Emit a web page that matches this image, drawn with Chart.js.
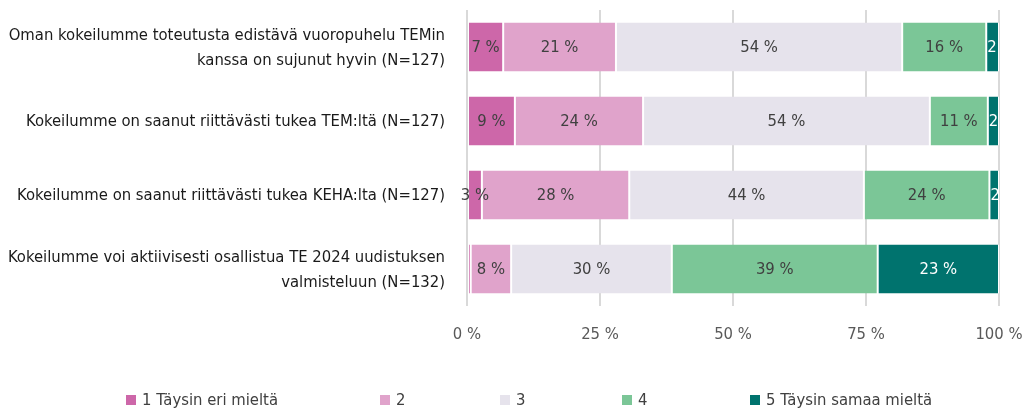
<!DOCTYPE html>
<html><head><meta charset="utf-8">
<script src="https://cdn.jsdelivr.net/npm/chart.js@4/dist/chart.umd.min.js"></script>
<style>
html,body{margin:0;padding:0;background:#fff;}
#wrap{position:relative;width:1026px;height:410px;}
canvas{position:absolute;left:0;top:0;}
#legend{position:absolute;top:390px;left:0;width:1026px;height:20px;font-family:"Liberation Sans Narrow","DejaVu Sans Condensed",sans-serif;font-size:16.5px;color:#404040;}
.li{position:absolute;top:0;display:flex;align-items:center;white-space:nowrap;}
.sw{width:10px;height:10px;margin-right:6px;display:inline-block;}
</style></head>
<body><div id="wrap"><canvas id="c" width="1026" height="410"></canvas><div id="legend"></div></div>
<script>
const FONT = '"Liberation Sans Narrow","DejaVu Sans Condensed",sans-serif';
const categories = [
  ["Oman kokeilumme toteutusta edistävä vuoropuhelu TEMin", "kanssa on sujunut hyvin (N=127)"],
  "Kokeilumme on saanut riittävästi tukea TEM:ltä (N=127)",
  "Kokeilumme on saanut riittävästi tukea KEHA:lta (N=127)",
  ["Kokeilumme voi aktiivisesti osallistua TE 2024 uudistuksen", "valmisteluun (N=132)"]
];
const seriesNames = ["1 Täysin eri mieltä", "2", "3", "4", "5 Täysin samaa mieltä"];
const s1 = [6.8, 9.0, 2.8, 0.7];
const s2 = [21.2, 24.1, 27.7, 7.6];
const s3 = [53.8, 53.9, 44.1, 30.2];
const s4 = [15.8, 10.9, 23.6, 38.7];
const s5 = [2.4, 2.1, 1.8, 22.8];
const tickLabels = ["0 %", "25 %", "50 %", "75 %", "100 %"];
const colors = ["#cd67a9", "#e0a3cb", "#e6e3ec", "#7bc697", "#00736e"];
const labelColors = ["#404040", "#404040", "#404040", "#404040", "#ffffff"];
const seriesValues = [s1, s2, s3, s4, s5];

const textPlugin = {
  id: 'texts',
  afterDatasetsDraw(chart) {
    const ctx = chart.ctx, ca = chart.chartArea;
    const xs = chart.scales.x, ys = chart.scales.y;
    ctx.save();
    ctx.font = '16.5px ' + FONT;
    ctx.textBaseline = 'middle';
    const nSeries = chart.data.datasets.length;
    chart.data.datasets.forEach((ds, di) => {
      const meta = chart.getDatasetMeta(di);
      meta.data.forEach((bar, i) => {
        const v = ds.data[i];
        if (v < 1) return;
        const txt = Math.round(v) + ' %';
        const left = Math.min(bar.x, bar.base), w = Math.abs(bar.x - bar.base);
        ctx.save();
        ctx.fillStyle = labelColors[di];
        if (di === nSeries - 1 && ctx.measureText(txt).width > w) {
          ctx.beginPath();
          ctx.rect(left, 0, w, chart.height);
          ctx.clip();
          ctx.textAlign = 'left';
          ctx.fillText(txt, left + 1, bar.y + 1);
        } else {
          ctx.textAlign = 'center';
          ctx.fillText(txt, left + w / 2, bar.y + 1);
        }
        ctx.restore();
      });
    });
    ctx.textAlign = 'right';
    ctx.fillStyle = '#1a1a1a';
    const lh = 24.5;
    chart.data.labels.forEach((lab, i) => {
      const lines = Array.isArray(lab) ? lab : [lab];
      const yc = ys.getPixelForValue(i);
      lines.forEach((t, k) => {
        ctx.fillText(t, ca.left - 22, yc + (k - (lines.length - 1) / 2) * lh + 1);
      });
    });
    ctx.textAlign = 'center';
    ctx.fillStyle = '#595959';
    xs.ticks.forEach((tk, i) => {
      ctx.fillText(tickLabels[i], xs.getPixelForValue(tk.value), 335);
    });
    ctx.restore();
  }
};

new Chart(document.getElementById('c'), {
  type: 'bar',
  data: {
    labels: categories,
    datasets: seriesValues.map((vals, i) => ({
      label: seriesNames[i],
      data: vals,
      backgroundColor: colors[i],
      borderColor: '#ffffff',
      borderWidth: {left: 1, right: 1, top: 0, bottom: 0},
      borderSkipped: false,
      barPercentage: 0.66,
      categoryPercentage: 1.0
    }))
  },
  options: {
    indexAxis: 'y',
    responsive: false,
    animation: false,
    layout: {padding: {left: 467, right: 27, top: 10, bottom: 104}},
    plugins: {legend: {display: false}, tooltip: {enabled: false}},
    scales: {
      x: {
        stacked: true, min: 0, max: 100,
        grid: {color: '#d9d9d9', lineWidth: 2, drawTicks: false},
        border: {display: false},
        ticks: {stepSize: 25, display: false}
      },
      y: {
        stacked: true,
        grid: {display: false, drawTicks: false},
        border: {display: false},
        ticks: {display: false}
      }
    }
  },
  plugins: [textPlugin]
});

const legendX = [126, 380, 500, 622, 750];
const lg = document.getElementById('legend');
seriesNames.forEach((n, i) => {
  const d = document.createElement('div');
  d.className = 'li';
  d.style.left = legendX[i] + 'px';
  d.innerHTML = '<span class="sw" style="background:' + colors[i] + '"></span><span>' + n + '</span>';
  lg.appendChild(d);
});
</script></body></html>
